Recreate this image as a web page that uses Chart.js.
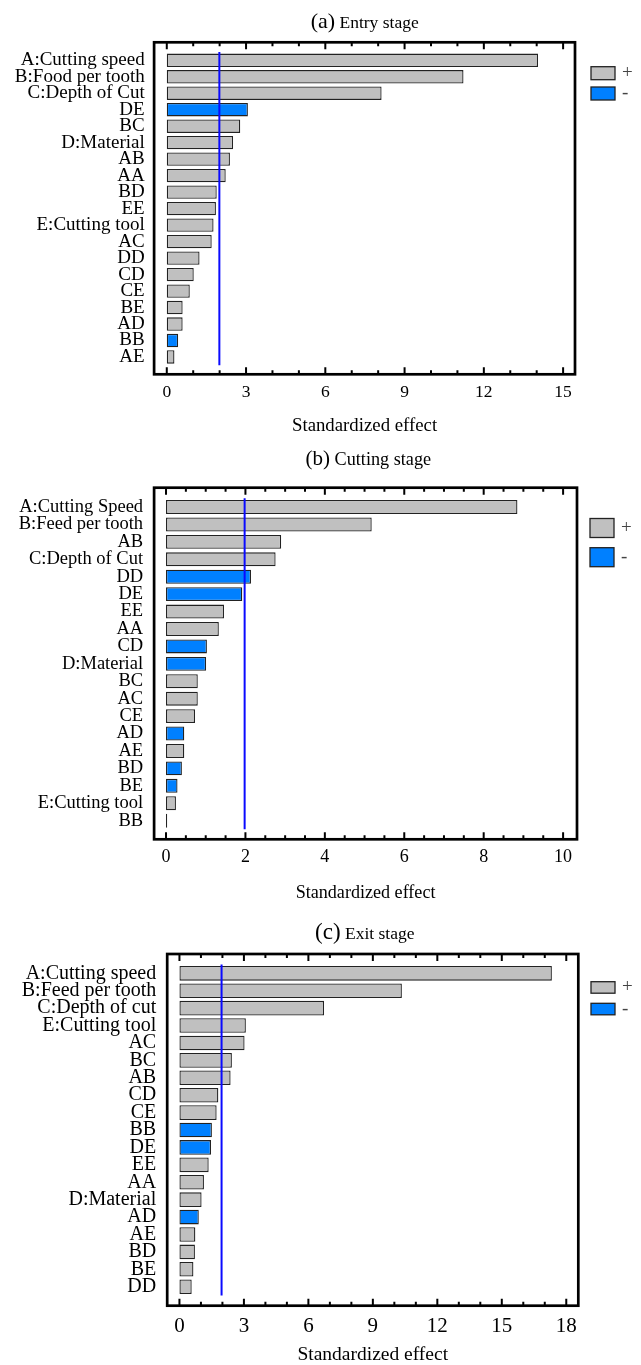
<!DOCTYPE html>
<html>
<head>
<meta charset="utf-8">
<title>Standardized effect</title>
<script src="https://cdn.jsdelivr.net/npm/chart.js@4.4.1/dist/chart.umd.min.js"></script>
<style>
  body { margin: 0; background: #fff; }
  #wrap { position: relative; width: 641px; height: 1365px; }
  canvas { position: absolute; left: 0; }
</style>
</head>
<body>
<div id="wrap">
  <canvas id="chartA" width="641" height="440" style="top:0"></canvas>
  <canvas id="chartB" width="641" height="465" style="top:440px"></canvas>
  <canvas id="chartC" width="641" height="460" style="top:905px"></canvas>
</div>
<script>
// (a) Entry stage
const catsA = ['A:Cutting speed', 'B:Food per tooth', 'C:Depth of Cut', 'DE', 'BC', 'D:Material', 'AB', 'AA', 'BD', 'EE',
  'E:Cutting tool', 'AC', 'DD', 'CD', 'CE', 'BE', 'AD', 'BB', 'AE'];
const valsA = [14.05, 11.23, 8.13, 3.07, 2.78, 2.51, 2.39, 2.23, 1.89, 1.86, 1.77, 1.70, 1.24, 1.02, 0.87, 0.60, 0.60, 0.43, 0.29];
const signsA = ['+', '+', '+', '-', '+', '+', '+', '+', '+', '+', '+', '+', '+', '+', '+', '+', '+', '-', '+'];
const critA = 1.99;
const ticksA = [0, 3, 6, 9, 12, 15];

// (b) Cutting stage
const catsB = ['A:Cutting Speed', 'B:Feed per tooth', 'AB', 'C:Depth of Cut', 'DD', 'DE', 'EE', 'AA', 'CD', 'D:Material',
  'BC', 'AC', 'CE', 'AD', 'AE', 'BD', 'BE', 'E:Cutting tool', 'BB'];
const valsB = [8.85, 5.18, 2.90, 2.76, 2.14, 1.92, 1.46, 1.33, 1.03, 1.01, 0.80, 0.80, 0.73, 0.46, 0.46, 0.40, 0.29, 0.25, 0.03];
const signsB = ['+', '+', '+', '+', '-', '-', '+', '+', '-', '-', '+', '+', '+', '-', '+', '-', '-', '+', '+'];
const critB = 1.98;
const ticksB = [0, 2, 4, 6, 8, 10];

// (c) Exit stage
const catsC = ['A:Cutting speed', 'B:Feed per tooth', 'C:Depth of cut', 'E:Cutting tool', 'AC', 'BC', 'AB', 'CD', 'CE', 'BB',
  'DE', 'EE', 'AA', 'D:Material', 'AD', 'AE', 'BD', 'BE', 'DD'];
const valsC = [17.33, 10.35, 6.73, 3.09, 3.03, 2.44, 2.38, 1.81, 1.73, 1.51, 1.47, 1.36, 1.14, 1.03, 0.90, 0.74, 0.72, 0.65, 0.57];
const signsC = ['+', '+', '+', '+', '+', '+', '+', '+', '+', '-', '-', '+', '+', '+', '-', '+', '+', '+', '+'];
const critC = 1.96;
const ticksC = [0, 3, 6, 9, 12, 15, 18];

const legendLabels = ['+', '-'];

const GREY = '#c0c0c0';
const BLUE = '#0080ff';
const SERIF = '"Liberation Serif", "Times New Roman", serif';

// box round the plot with tick marks on the inside, top and bottom
const framePlugin = {
  id: 'frame',
  afterDatasetsDraw(chart) {
    const { ctx, chartArea: a } = chart;
    const x = chart.scales.x;
    ctx.save();
    ctx.strokeStyle = '#000';
    ctx.lineWidth = 2;
    x.ticks.forEach(t => {
      const px = x.getPixelForValue(t.value);
      const len = t.label !== '' ? 7 : 4;
      ctx.beginPath();
      ctx.moveTo(px, a.top);
      ctx.lineTo(px, a.top + len);
      ctx.moveTo(px, a.bottom);
      ctx.lineTo(px, a.bottom - len);
      ctx.stroke();
    });
    ctx.lineWidth = 2.7;
    ctx.strokeRect(a.left, a.top, a.right - a.left, a.bottom - a.top);
    ctx.restore();
  }
};

// title with a bigger "(a)" and the +/- legend on the right
const sidePlugin = {
  id: 'side',
  afterDraw(chart, args, o) {
    const { ctx, chartArea: a } = chart;
    ctx.save();
    ctx.fillStyle = '#000';
    ctx.textBaseline = 'alphabetic';
    const f1 = o.tagSize + 'px ' + SERIF;
    const f2 = o.textSize + 'px ' + SERIF;
    ctx.font = f1;
    const w1 = ctx.measureText(o.tag).width;
    ctx.font = f2;
    const w2 = ctx.measureText(' ' + o.text).width;
    const x0 = o.titleX - (w1 + w2) / 2;
    ctx.font = f1;
    ctx.fillText(o.tag, x0, o.titleY);
    ctx.font = f2;
    ctx.fillText(' ' + o.text, x0 + w1, o.titleY);

    [GREY, BLUE].forEach((c, i) => {
      const y = a.top + o.legendY[i];
      ctx.fillStyle = c;
      ctx.fillRect(o.legendX, y, 24, o.boxH);
      ctx.strokeStyle = '#222';
      ctx.lineWidth = 1.3;
      ctx.strokeRect(o.legendX, y, 24, o.boxH);
      ctx.fillStyle = '#444';
      ctx.font = '19px ' + SERIF;
      ctx.textBaseline = 'middle';
      ctx.fillText(legendLabels[i], o.legendX + 31, y + o.boxH / 2);
    });
    ctx.restore();
  }
};

function makeChart(id, cats, vals, signs, crit, majors, s) {
  const canvas = document.getElementById(id);
  const H = canvas.height;
  return new Chart(canvas, {
    type: 'bar',
    data: {
      datasets: [
        {
          type: 'line',
          data: [{ x: crit, y: -0.5 }, { x: crit, y: cats.length - 0.5 }],
          borderColor: '#0a0aff',
          borderWidth: 2,
          pointRadius: 0,
          order: 0
        },
        {
          type: 'bar',
          data: vals.map((v, i) => ({ x: v, y: i })),
          backgroundColor: signs.map(sg => sg === '-' ? BLUE : GREY),
          borderColor: '#222',
          borderWidth: 1.3,
          borderSkipped: false,
          categoryPercentage: s.barPct,
          barPercentage: 1,
          order: 1
        }
      ]
    },
    options: {
      indexAxis: 'y',
      responsive: false,
      animation: false,
      layout: { padding: { top: s.top, right: 641 - s.right, left: 0, bottom: 0 } },
      plugins: {
        legend: { display: false },
        tooltip: { enabled: false },
        side: s
      },
      scales: {
        x: {
          type: 'linear',
          min: s.xMin,
          max: s.xMax,
          grid: { display: false, drawTicks: false },
          border: { display: false },
          ticks: {
            stepSize: s.step,
            includeBounds: false,
            autoSkip: false,
            maxRotation: 0,
            color: '#000',
            padding: s.tickPad,
            font: { family: SERIF, size: s.tickSize, lineHeight: 1 },
            callback: v => majors.includes(v) ? String(v) : ''
          },
          title: {
            display: true,
            text: 'Standardized effect',
            color: '#000',
            font: { family: SERIF, size: s.axisSize, lineHeight: 1 },
            padding: { top: 0, bottom: s.axisPad }
          },
          afterFit: sc => { sc.height = H - s.bottom; }
        },
        y: {
          type: 'linear',
          reverse: true,
          offset: false,
          min: -s.padRows[0],
          max: cats.length - 1 + s.padRows[1],
          grid: { display: false, drawTicks: false, offset: false },
          border: { display: false },
          afterBuildTicks: sc => { sc.ticks = cats.map((c, i) => ({ value: i })); },
          ticks: {
            autoSkip: false,
            color: '#000',
            padding: s.labelPad,
            font: { family: SERIF, size: s.labelSize, lineHeight: 1 },
            callback: v => cats[v]
          },
          afterFit: sc => { sc.width = s.left; }
        }
      }
    },
    plugins: [framePlugin, sidePlugin]
  });
}

makeChart('chartA', catsA, valsA, signsA, critA, ticksA, {
  left: 154.1, right: 575, top: 42.3, bottom: 374.3,
  xMin: -0.48, xMax: 15.45, step: 1, padRows: [1.09, 1.05], barPct: 0.81,
  labelSize: 19, labelPad: 9.4, tickSize: 17.5, tickPad: 9.6, axisSize: 18.8, axisPad: 4.9,
  tag: '(a)', text: 'Entry stage', tagSize: 22, textSize: 17.5, titleX: 364.7, titleY: 28.3,
  legendX: 591, legendY: [24.4, 44.7], boxH: 13
});

makeChart('chartB', catsB, valsB, signsB, critB, ticksB, {
  left: 154.1, right: 577, top: 47.7, bottom: 399.3,
  xMin: -0.30, xMax: 10.35, step: 0.5, padRows: [1.11, 1.07], barPct: 0.8,
  labelSize: 18.5, labelPad: 11, tickSize: 18, tickPad: 9.4, axisSize: 18.1, axisPad: 2.6,
  tag: '(b)', text: 'Cutting stage', tagSize: 21, textSize: 18.2, titleX: 368.3, titleY: 25,
  legendX: 590, legendY: [30.8, 60], boxH: 19
});

makeChart('chartC', catsC, valsC, signsC, critC, ticksC, {
  left: 167.2, right: 578.3, top: 49, bottom: 400.7,
  xMin: -0.57, xMax: 18.56, step: 1, padRows: [1.11, 1.09], barPct: 0.84,
  labelSize: 20, labelPad: 11, tickSize: 21, tickPad: 10.5, axisSize: 19.5, axisPad: 0.3,
  tag: '(c)', text: 'Exit stage', tagSize: 23, textSize: 17.5, titleX: 364.8, titleY: 34.3,
  legendX: 591, legendY: [27.7, 49.3], boxH: 11.5
});
</script>
</body>
</html>
